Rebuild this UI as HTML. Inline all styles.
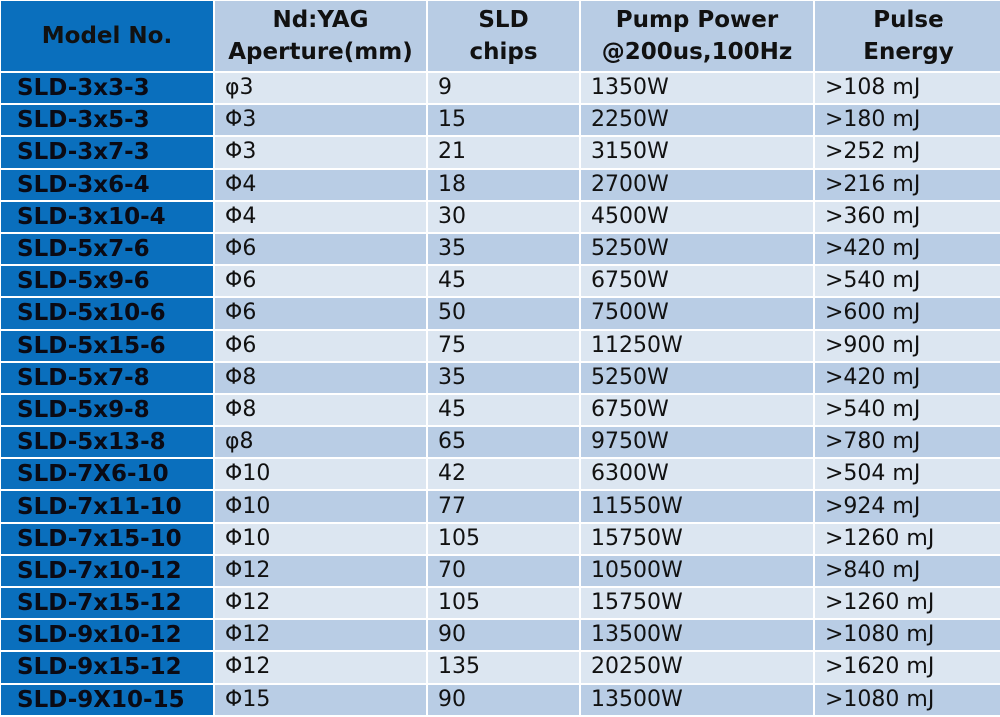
<!DOCTYPE html>
<html><head><meta charset="utf-8"><style>
html,body{margin:0;padding:0;background:#fff;width:1000px;height:716px;overflow:hidden}
table{border-collapse:collapse;position:absolute;left:-1px;top:-1px;width:1003px;table-layout:fixed;font-family:"DejaVu Sans","Liberation Sans",sans-serif}
tr{height:32.2px}
tr.h{height:72px}
td{border:2px solid #fff;padding:0 0 0 10px;font-size:22px;color:#111;line-height:28px;white-space:nowrap;overflow:hidden;vertical-align:middle}
tr.h td{font-weight:bold;text-align:center;padding:0;line-height:32px;background:#b8cce4;font-size:23px}
tr.h td:first-child{background:#0a6fbd}
td.m{background:#0a6fbd;font-weight:bold;padding-left:16px;font-size:23px;color:#0a0a14}
tr.a td{background:#dce6f1}
tr.b td{background:#b9cde5}
tr.a td.m,tr.b td.m{background:#0a6fbd}
</style></head><body>
<table>
<colgroup><col style="width:214px"><col style="width:213px"><col style="width:153px"><col style="width:234px"><col style="width:189px"></colgroup>
<tr class="h"><td>Model No.</td><td>Nd:YAG<br>Aperture(mm)</td><td>SLD<br>chips</td><td>Pump Power<br>@200us,100Hz</td><td>Pulse<br>Energy</td></tr>
<tr class="a"><td class="m">SLD-3x3-3</td><td>φ3</td><td>9</td><td>1350W</td><td>&gt;108 mJ</td></tr>
<tr class="b"><td class="m">SLD-3x5-3</td><td>Φ3</td><td>15</td><td>2250W</td><td>&gt;180 mJ</td></tr>
<tr class="a"><td class="m">SLD-3x7-3</td><td>Φ3</td><td>21</td><td>3150W</td><td>&gt;252 mJ</td></tr>
<tr class="b"><td class="m">SLD-3x6-4</td><td>Φ4</td><td>18</td><td>2700W</td><td>&gt;216 mJ</td></tr>
<tr class="a"><td class="m">SLD-3x10-4</td><td>Φ4</td><td>30</td><td>4500W</td><td>&gt;360 mJ</td></tr>
<tr class="b"><td class="m">SLD-5x7-6</td><td>Φ6</td><td>35</td><td>5250W</td><td>&gt;420 mJ</td></tr>
<tr class="a"><td class="m">SLD-5x9-6</td><td>Φ6</td><td>45</td><td>6750W</td><td>&gt;540 mJ</td></tr>
<tr class="b"><td class="m">SLD-5x10-6</td><td>Φ6</td><td>50</td><td>7500W</td><td>&gt;600 mJ</td></tr>
<tr class="a"><td class="m">SLD-5x15-6</td><td>Φ6</td><td>75</td><td>11250W</td><td>&gt;900 mJ</td></tr>
<tr class="b"><td class="m">SLD-5x7-8</td><td>Φ8</td><td>35</td><td>5250W</td><td>&gt;420 mJ</td></tr>
<tr class="a"><td class="m">SLD-5x9-8</td><td>Φ8</td><td>45</td><td>6750W</td><td>&gt;540 mJ</td></tr>
<tr class="b"><td class="m">SLD-5x13-8</td><td>φ8</td><td>65</td><td>9750W</td><td>&gt;780 mJ</td></tr>
<tr class="a"><td class="m">SLD-7X6-10</td><td>Φ10</td><td>42</td><td>6300W</td><td>&gt;504 mJ</td></tr>
<tr class="b"><td class="m">SLD-7x11-10</td><td>Φ10</td><td>77</td><td>11550W</td><td>&gt;924 mJ</td></tr>
<tr class="a"><td class="m">SLD-7x15-10</td><td>Φ10</td><td>105</td><td>15750W</td><td>&gt;1260 mJ</td></tr>
<tr class="b"><td class="m">SLD-7x10-12</td><td>Φ12</td><td>70</td><td>10500W</td><td>&gt;840 mJ</td></tr>
<tr class="a"><td class="m">SLD-7x15-12</td><td>Φ12</td><td>105</td><td>15750W</td><td>&gt;1260 mJ</td></tr>
<tr class="b"><td class="m">SLD-9x10-12</td><td>Φ12</td><td>90</td><td>13500W</td><td>&gt;1080 mJ</td></tr>
<tr class="a"><td class="m">SLD-9x15-12</td><td>Φ12</td><td>135</td><td>20250W</td><td>&gt;1620 mJ</td></tr>
<tr class="b"><td class="m">SLD-9X10-15</td><td>Φ15</td><td>90</td><td>13500W</td><td>&gt;1080 mJ</td></tr>
</table>
</body></html>
